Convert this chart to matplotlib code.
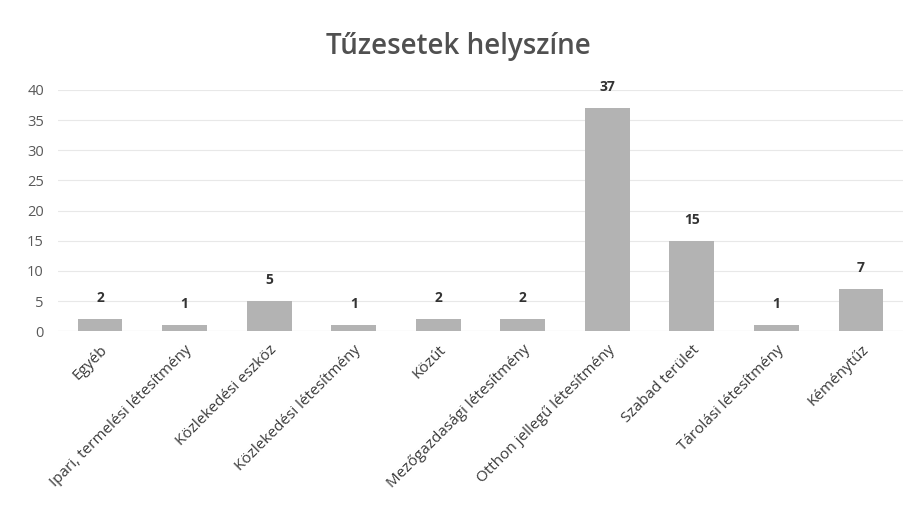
import matplotlib.pyplot as plt
import numpy as np

# adatok
helyszin = ['Egyéb', 'Ipari, termelési létesítmény', 'Közlekedési eszköz',
            'Közlekedési létesítmény', 'Közút', 'Mezőgazdasági létesítmény',
            'Otthon jellegű létesítmény', 'Szabad terület', 'Tárolási létesítmény',
            'Kéménytűz']
esetek = [2, 1, 5, 1, 2, 2, 37, 15, 1, 7]

plt.rcParams['font.family'] = ['Open Sans', 'DejaVu Sans']

fig = plt.figure(figsize=(9.17, 5.29), dpi=100)
ax = fig.add_axes([0.063, 0.374, 0.922, 0.456])

x = np.arange(len(helyszin))
ax.bar(x, esetek, width=0.53, color='#b3b3b3', zorder=3)
for xi, v in zip(x, esetek):
    ax.annotate(str(v), (xi, v), xytext=(0, 10), textcoords='offset points',
                ha='center', va='bottom', fontsize=10, fontweight='bold',
                color='#333333')

ax.set_xlim(-0.5, len(helyszin) - 0.5)
ax.set_ylim(0, 40)
ax.set_yticks(range(0, 41, 5))
ax.yaxis.grid(True, color='#e8e8e8', lw=0.8, zorder=0)
ax.set_xticks(x)
ax.set_xticklabels(helyszin, rotation=45, ha='right', rotation_mode='anchor',
                   fontsize=11, color='#3a3a3a')
ax.tick_params(axis='y', labelsize=10.5, colors='#595959', length=0, pad=10)
ax.tick_params(axis='x', length=0, pad=8)
for s in ax.spines.values():
    s.set_visible(False)
ax.axhline(0, color='#d9d9d9', lw=0.8, zorder=2)

fig.suptitle('Tűzesetek helyszíne', y=0.94, fontsize=20, fontweight='semibold',
             color='#505050')

fig.savefig('out.png', dpi=100, facecolor='white')
